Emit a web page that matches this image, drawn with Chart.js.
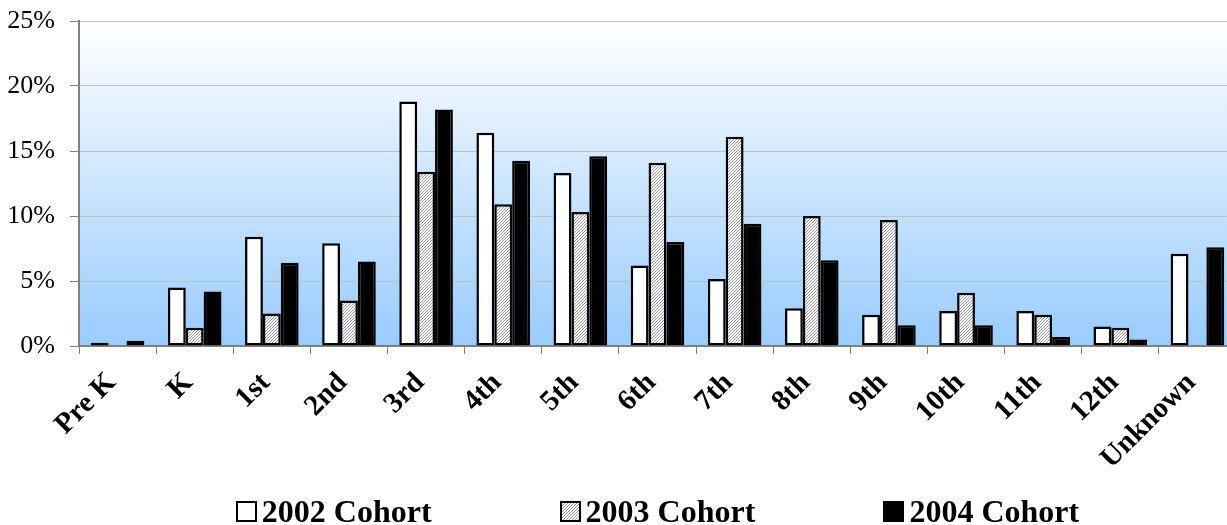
<!DOCTYPE html>
<html>
<head>
<meta charset="utf-8">
<title>Cohort distribution by grade</title>
<script src="https://cdn.jsdelivr.net/npm/chart.js@4.4.1/dist/chart.umd.min.js"></script>
<style>
  html, body { margin: 0; padding: 0; background: #fff; overflow: hidden; width: 1227px; height: 525px; }
  #wrap { position: relative; width: 1240px; height: 525px; }
  #c { display: block; }
  #legend {
    position: absolute; left: 79px; width: 1157px; top: 495px;
    display: flex; justify-content: center; gap: 128px;
    font: bold 32px "Liberation Serif", "Times New Roman", serif; line-height: 32px; color: #000;
  }
  .item { display: flex; align-items: center; white-space: nowrap; }
  .sw { width: 17px; height: 17px; border: 2px solid #000; margin-right: 5px; flex: none; }
</style>
</head>
<body>
<div id="wrap">
  <canvas id="c" width="1240" height="525"></canvas>
  <div id="legend"></div>
</div>
<script>
// Grade levels on the x axis
const grades = ['Pre K', 'K', '1st', '2nd', '3rd', '4th', '5th', '6th', '7th', '8th', '9th', '10th', '11th', '12th', 'Unknown'];

// Share of each cohort by grade (percent)
const cohort2002 = [0.25, 4.5, 8.4, 7.9, 18.8, 16.4, 13.3, 6.2, 5.15, 2.9, 2.4, 2.7, 2.7, 1.5, 7.1];
const cohort2003 = [null, 1.4, 2.5, 3.5, 13.4, 10.9, 10.3, 14.1, 16.1, 10.0, 9.7, 4.1, 2.4, 1.4, null];
const cohort2004 = [0.4, 4.2, 6.4, 6.5, 18.2, 14.25, 14.6, 8.0, 9.4, 6.6, 1.6, 1.6, 0.7, 0.5, 7.6];

const seriesNames = ['2002 Cohort', '2003 Cohort', '2004 Cohort'];

// Y axis tick values (percent)
const yTicks = [0, 5, 10, 15, 20, 25];

// Fine diagonal hatch used for the 2003 cohort
function makeHatch() {
  const s = 3;
  const p = document.createElement('canvas');
  p.width = s; p.height = s;
  const g = p.getContext('2d');
  g.fillStyle = '#ffffff';
  g.fillRect(0, 0, s, s);
  g.strokeStyle = '#969696';
  g.lineWidth = 1;
  g.beginPath();
  g.moveTo(0, s); g.lineTo(s, 0);
  g.moveTo(-1, 1); g.lineTo(1, -1);
  g.moveTo(s - 1, s + 1); g.lineTo(s + 1, s - 1);
  g.stroke();
  return p;
}
const hatchTile = makeHatch();
const ctx = document.getElementById('c').getContext('2d');
const hatch = ctx.createPattern(hatchTile, 'repeat');

const fills = ['#ffffff', hatch, '#000000'];
const series = [cohort2002, cohort2003, cohort2004];

// Plot area background: white fading into light blue
const plotBackground = {
  id: 'plotBackground',
  beforeDraw(chart) {
    const { ctx, chartArea: a } = chart;
    const grad = ctx.createLinearGradient(0, a.top, 0, a.bottom);
    grad.addColorStop(0, '#ffffff');
    grad.addColorStop(1, '#99ccff');
    ctx.save();
    ctx.fillStyle = grad;
    ctx.fillRect(a.left, a.top, a.right - a.left, a.bottom - a.top);
    ctx.restore();
  }
};

const serif = 'Liberation Serif, Times New Roman, serif';

const chart = new Chart(ctx, {
  type: 'bar',
  data: {
    labels: grades,
    datasets: series.map((vals, i) => ({
      label: seriesNames[i],
      data: vals,
      backgroundColor: fills[i],
      borderColor: '#000000',
      borderWidth: 2.5,
      borderSkipped: false,
      categoryPercentage: 0.695,
      barPercentage: 1.0
    }))
  },
  options: {
    responsive: false,
    animation: false,
    devicePixelRatio: 1,
    layout: { padding: { top: 21, right: 4, left: 0, bottom: 0 } },
    plugins: {
      legend: { display: false },
      tooltip: { enabled: false }
    },
    scales: {
      x: {
        grid: { offset: true, drawOnChartArea: false, drawTicks: true, tickLength: 8, color: '#808080', lineWidth: 1 },
        border: { color: '#808080', width: 2 },
        ticks: {
          autoSkip: false,
          maxRotation: 45, minRotation: 45,
          padding: 12,
          labelOffset: -6,
          color: '#000',
          font: { family: serif, size: 29, weight: 'bold' }
        },
        afterFit(s) { s.height = 179; s.paddingLeft = 0; s.paddingRight = 0; }
      },
      y: {
        min: 0, max: 25,
        afterBuildTicks(s) { s.ticks = yTicks.map(v => ({ value: v })); },
        grid: { color: '#c0c0c0', tickColor: '#808080', tickLength: 9, lineWidth: 1 },
        border: { color: '#808080', width: 2 },
        ticks: {
          padding: 15,
          color: '#000',
          font: { family: serif, size: 26 },
          callback: v => v + '%'
        },
        afterFit(s) { s.width = 79; s.paddingTop = 0; s.paddingBottom = 0; }
      }
    }
  },
  plugins: [plotBackground]
});

// Legend built from the chart's datasets
const legendEl = document.getElementById('legend');
const hatchUrl = hatchTile.toDataURL();
chart.data.datasets.forEach((ds, i) => {
  const item = document.createElement('div');
  item.className = 'item';
  const sw = document.createElement('span');
  sw.className = 'sw';
  if (i === 1) {
    sw.style.backgroundImage = 'url(' + hatchUrl + ')';
  } else {
    sw.style.background = ds.backgroundColor;
  }
  const tx = document.createElement('span');
  tx.textContent = ds.label;
  item.appendChild(sw);
  item.appendChild(tx);
  legendEl.appendChild(item);
});
</script>
</body>
</html>
